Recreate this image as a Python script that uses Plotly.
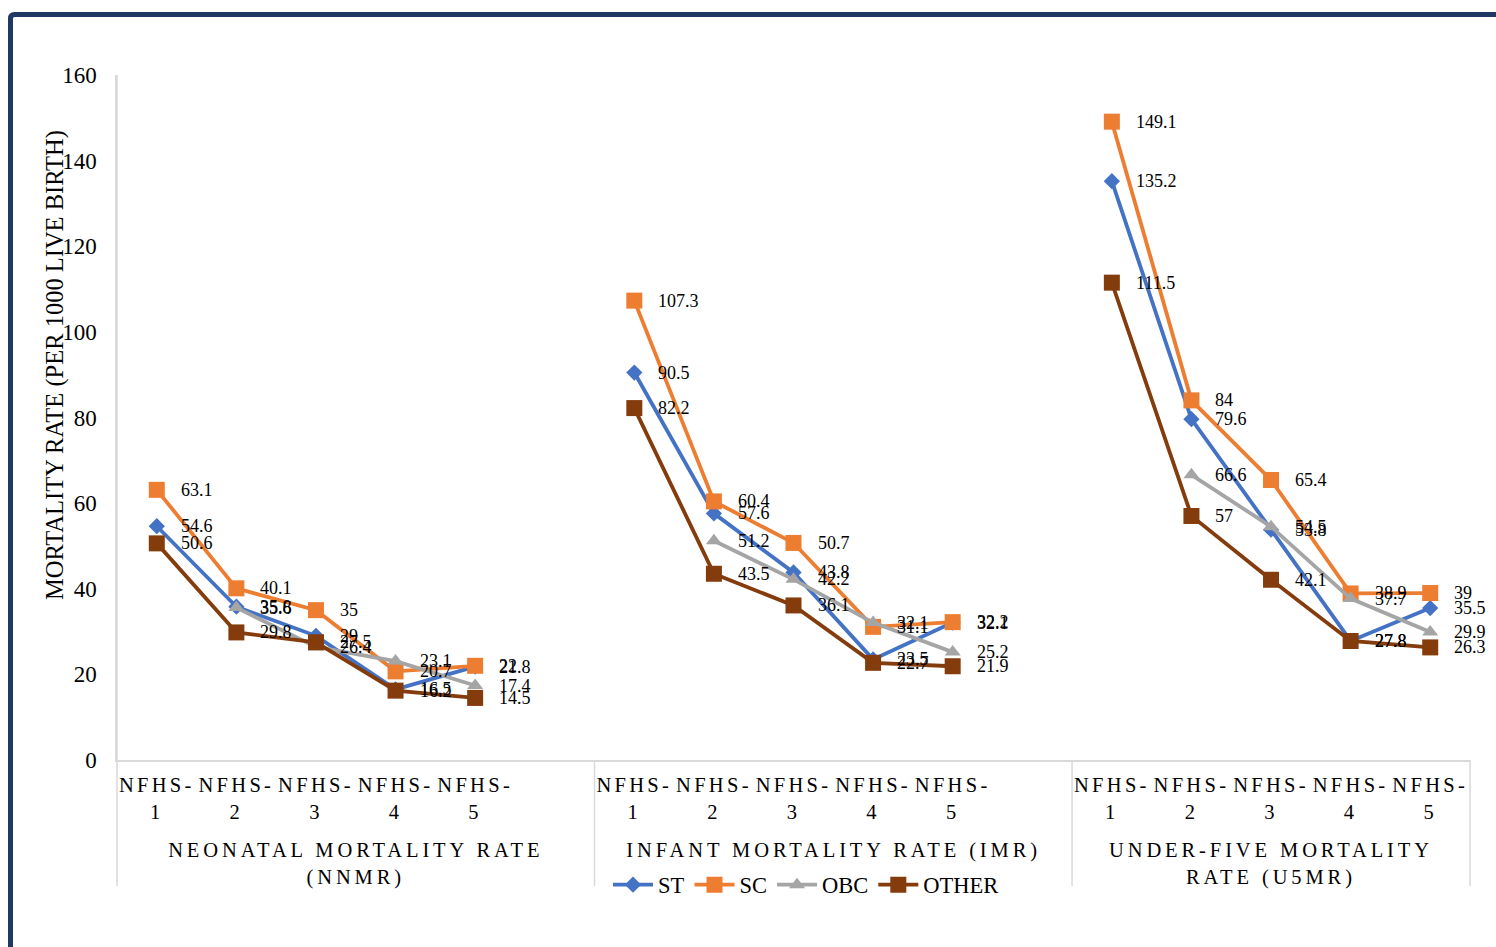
import plotly.graph_objects as go

# ---- data -------------------------------------------------------------
surveys = ["NFHS-1", "NFHS-2", "NFHS-3", "NFHS-4", "NFHS-5"]
indicators = [
    "NEONATAL MORTALITY RATE<br>(NNMR)",
    "INFANT MORTALITY RATE (IMR)",
    "UNDER-FIVE MORTALITY<br>RATE (U5MR)",
]

st_nnmr = [54.6, 35.8, 29, 16.5, 21.8]
st_imr = [90.5, 57.6, 43.8, 23.5, 32.1]
st_u5mr = [135.2, 79.6, 53.8, 27.8, 35.5]

sc_nnmr = [63.1, 40.1, 35, 20.7, 22]
sc_imr = [107.3, 60.4, 50.7, 31.1, 32.2]
sc_u5mr = [149.1, 84, 65.4, 38.9, 39]

obc_nnmr = [None, 35.6, 26.4, 23.1, 17.4]
obc_imr = [None, 51.2, 42.2, 32.1, 25.2]
obc_u5mr = [None, 66.6, 54.5, 37.7, 29.9]

other_nnmr = [50.6, 29.8, 27.5, 16.2, 14.5]
other_imr = [82.2, 43.5, 36.1, 22.7, 21.9]
other_u5mr = [111.5, 57, 42.1, 27.8, 26.3]

y_ticks = [0, 20, 40, 60, 80, 100, 120, 140, 160]

series = [
    ("ST", [st_nnmr, st_imr, st_u5mr], "#4472C4", "diamond", 12.5),
    ("SC", [sc_nnmr, sc_imr, sc_u5mr], "#ED7D31", "square", 16),
    ("OBC", [obc_nnmr, obc_imr, obc_u5mr], "#A5A5A5", "triangle-up", 14),
    ("OTHER", [other_nnmr, other_imr, other_u5mr], "#843C0C", "square", 16),
]

# ---- geometry ---------------------------------------------------------
W, H = 1496, 947
ML, MR, MT, MB = 117, 26, 75, 187
PW, PH = W - ML - MR, H - MT - MB
FONT = "Liberation Serif, Times New Roman, serif"
AXIS_GREY = "#D9D9D9"

# category slots per indicator block (the first two carry a spacer slot)
slots = [len(surveys) + 1, len(surveys) + 1, len(surveys)]
starts = [sum(slots[:k]) for k in range(len(slots))]
x_lo, x_hi = -0.5, sum(slots) - 0.5


def px_x(p):
    return (p - ML) / PW


def px_y(p):
    return (H - MB - p) / PH


def xpos(g, i):
    return starts[g] + i


fig = go.Figure()
annotations = []

for name, groups, color, symbol, msize in series:
    xs, ys = [], []
    for g, vals in enumerate(groups):
        for i, v in enumerate(vals):
            xs.append(xpos(g, i))
            ys.append(v)
            if v is not None:
                annotations.append(dict(
                    x=xpos(g, i), y=v, xref="x", yref="y",
                    text=f"{v:g}", showarrow=False,
                    xanchor="left", yanchor="middle", xshift=22,
                    font=dict(family=FONT, size=18, color="#000"),
                ))
        xs.append(None)
        ys.append(None)
    fig.add_trace(go.Scatter(
        x=xs, y=ys, name=name, mode="lines+markers",
        connectgaps=False,
        line=dict(color=color, width=3.8),
        marker=dict(symbol=symbol, size=msize, color=color),
    ))

# indicator (group) labels under the survey ticks
for g, label in enumerate(indicators):
    centre = starts[g] - 0.5 + slots[g] / 2
    annotations.append(dict(
        x=centre, y=px_y(837), xref="x", yref="paper",
        text=label, showarrow=False, xanchor="center", yanchor="top",
        align="center",
        font=dict(family=FONT, size=20.5, color="#000"),
    ))

# vertical axis title
annotations.append(dict(
    x=px_x(55), y=px_y(365), xref="paper", yref="paper",
    text="MORTALITY RATE (PER 1000 LIVE BIRTH)", showarrow=False,
    textangle=-90, xanchor="center", yanchor="middle",
    font=dict(family=FONT, size=24.5, color="#000"),
))

shapes = []
# block dividers, left edge and right edge of the category area
bottom = px_y(886)
for xb in [x_lo] + [starts[g] - 0.5 for g in range(1, len(slots))] + [x_hi]:
    px = (xb - x_lo) / (x_hi - x_lo)
    shapes.append(dict(type="line", xref="paper", yref="paper",
                       x0=px, x1=px, y0=0 if xb != x_lo else 1, y1=bottom,
                       line=dict(color=AXIS_GREY, width=1.5)))

# frame around the whole figure (rounded top-left corner)
r = 4
fx0, fy0, fx1, fy1 = 10.5, 14.5, 1700, 1100
frame = (f"M {px_x(fx0)},{px_y(fy1)} L {px_x(fx0)},{px_y(fy0 + r)} "
         f"Q {px_x(fx0)},{px_y(fy0)} {px_x(fx0 + r)},{px_y(fy0)} "
         f"L {px_x(fx1)},{px_y(fy0)}")
shapes.append(dict(type="path", xref="paper", yref="paper", path=frame,
                   line=dict(color="#203864", width=5)))

fig.update_layout(
    width=W, height=H,
    margin=dict(l=ML, r=MR, t=MT, b=MB),
    paper_bgcolor="white", plot_bgcolor="white",
    font=dict(family=FONT, color="#000"),
    showlegend=True,
    legend=dict(
        orientation="h", x=px_x(806), xanchor="center",
        y=px_y(885), yanchor="middle",
        font=dict(family=FONT, size=22.5, color="#000"),
        bgcolor="rgba(0,0,0,0)", itemwidth=40, tracegroupgap=0,
    ),
    xaxis=dict(
        range=[x_lo, x_hi], showgrid=False, zeroline=False,
        showline=True, linecolor=AXIS_GREY, linewidth=1.5,
        tickmode="array",
        tickvals=[xpos(g, i) for g in range(len(indicators)) for i in range(len(surveys))],
        ticktext=[s.replace("-", "-<br>") for _ in indicators for s in surveys],
        tickfont=dict(family=FONT, size=20.5, color="#000"),
        ticks="", ticklabelstandoff=6,
    ),
    yaxis=dict(
        range=[0, 160], tickmode="array", tickvals=y_ticks,
        showgrid=False, zeroline=False,
        showline=True, linecolor=AXIS_GREY, linewidth=1.5,
        tickfont=dict(family=FONT, size=23, color="#000"),
        ticks="", ticklabelstandoff=14,
    ),
    annotations=annotations,
    shapes=shapes,
)

# widen the tracking of the category texts, as in the printed chart
tracking_js = """
var gd = document.getElementById('{plot_id}');
function track() {
  gd.querySelectorAll('.xtick text').forEach(function (t) {
    t.style.letterSpacing = '3.3px';
  });
  gd.querySelectorAll('text.annotation-text').forEach(function (t) {
    var s = t.textContent;
    if (s.indexOf('RATE') >= 0 && s.indexOf('BIRTH') < 0) {
      t.style.letterSpacing = '3.9px';
    }
  });
}
track();
"""

fig.write_html("out.html", post_script=tracking_js)
